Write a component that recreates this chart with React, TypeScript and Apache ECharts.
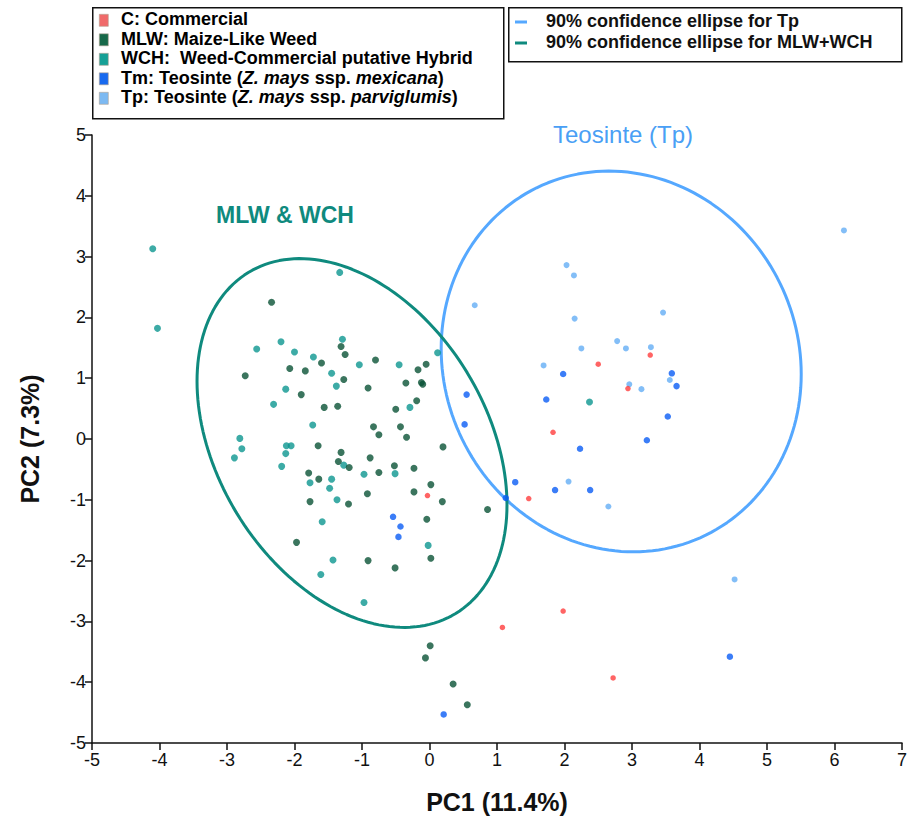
import React, { useEffect, useRef } from "react";
import * as echarts from "echarts";

// ---- Data (PC1, PC2) ----
const commercial: [number, number][] = [
  [-0.03, -0.93], [1.47, -0.98], [1.83, 0.11], [2.5, 1.23], [3.27, 1.38],
  [2.94, 0.83], [1.08, -3.1], [1.98, -2.83], [2.72, -3.93],
];

const mlw: [number, number][] = [
  [-2.34, 2.25], [-2.07, 1.16], [-2.73, 1.04], [-1.31, 1.52], [-1.25, 1.39],
  [-1.6, 1.25], [-1.84, 1.12], [-0.8, 1.3], [-0.05, 1.23], [-0.17, 1.14],
  [-1.27, 0.98], [-1.9, 0.73], [-0.91, 0.84], [-0.35, 0.92], [-0.12, 0.93],
  [-0.1, 0.9], [-0.19, 0.63], [-1.56, 0.52], [-1.36, 0.54], [-0.5, 0.49],
  [-0.83, 0.2], [-0.43, 0.2], [-0.75, 0.07], [-0.34, 0.03], [-1.65, -0.11],
  [-1.31, -0.22], [-1.35, -0.37], [-1.19, -0.47], [-0.88, -0.31], [-0.52, -0.44],
  [-0.23, -0.48], [-1.79, -0.56], [-1.64, -0.66], [-0.75, -0.55], [-0.92, -0.9],
  [-0.23, -0.87], [0.02, -0.75], [-1.77, -1.03], [-1.97, -1.7], [-1.2, -1.07],
  [0.19, -1.03], [0.86, -1.16], [-0.04, -1.32], [0.02, -1.96], [-0.91, -2.0],
  [-0.51, -2.12], [0.01, -3.4], [-0.06, -3.6], [0.35, -4.03], [0.56, -4.37],
  [0.2, -0.13],
];

const wch: [number, number][] = [
  [-4.1, 3.13], [-4.03, 1.82], [-2.56, 1.48], [-2.2, 1.6], [-2.0, 1.43],
  [-2.13, 0.82], [-1.33, 2.74], [-1.29, 1.64], [-1.72, 1.35], [-1.45, 1.08],
  [-1.04, 1.22], [-0.45, 1.22], [0.12, 1.42], [-1.38, 0.87], [-2.31, 0.57],
  [-0.29, 0.52], [-1.73, 0.23], [-2.12, -0.11], [-2.05, -0.11], [-2.13, -0.24],
  [-1.27, -0.43], [-2.19, -0.45], [-1.45, -0.66], [-0.97, -0.58], [-0.51, -0.57],
  [-1.77, -0.72], [-1.48, -0.81], [-2.81, 0.01], [-2.78, -0.16], [-2.89, -0.31],
  [-1.37, -1.0], [-1.59, -1.36], [-0.02, -1.75], [-1.43, -1.99], [-1.61, -2.23],
  [-0.97, -2.69], [2.37, 0.61],
];

const tm: [number, number][] = [
  [-0.54, -1.28], [-0.43, -1.44], [-0.46, -1.61], [0.21, -4.53], [0.55, 0.73],
  [0.52, 0.24], [1.73, 0.65], [1.98, 1.07], [3.53, 0.37], [3.66, 0.87],
  [3.59, 1.08], [3.22, -0.02], [2.23, -0.16], [1.27, -0.71], [1.13, -0.97],
  [1.86, -0.84], [2.38, -0.84], [4.45, -3.58],
];

const tp: [number, number][] = [
  [2.03, 2.86], [2.14, 2.69], [0.67, 2.2], [2.15, 1.98], [3.46, 2.08],
  [2.25, 1.49], [2.78, 1.61], [2.91, 1.49], [3.28, 1.51], [1.69, 1.21],
  [2.96, 0.9], [3.14, 0.82], [3.56, 0.97], [2.06, -0.7], [2.65, -1.11],
  [6.14, 3.43], [4.52, -2.31],
];

// 90% confidence ellipse parameters (centre, SDs along axes, correlation) in data units
const ellipseTp = { cx: 2.84, cy: 1.275, sx: 2.667, sy: 3.131, r: -0.067 };
const ellipseMlwWch = { cx: -1.148, cy: -0.066, sx: 2.296, sy: 3.033, r: -0.335 };

const xTicks = [-5, -4, -3, -2, -1, 0, 1, 2, 3, 4, 5, 6, 7];
const yTicks = [-5, -4, -3, -2, -1, 0, 1, 2, 3, 4, 5];

function ellipsePoints(e: { cx: number; cy: number; sx: number; sy: number; r: number }) {
  const pts: [number, number][] = [];
  const n = 180;
  const l21 = e.r * e.sy;
  const l22 = e.sy * Math.sqrt(1 - e.r * e.r);
  for (let i = 0; i <= n; i++) {
    const t = (i / n) * Math.PI * 2;
    const u = Math.cos(t);
    const v = Math.sin(t);
    pts.push([e.cx + e.sx * u, e.cy + l21 * u + l22 * v]);
  }
  return pts;
}

const C_RED = "#ff3d3d";
const C_MLW = "#0a5236";
const C_WCH = "#0c9690";
const C_TM = "#0a5cf5";
const C_TP = "#64aef5";
const E_TEAL = "#0f8a7e";
const E_BLUE = "#55a8ff";

const FONT = "'Liberation Sans', Arial, sans-serif";

export default function App() {
  const ref = useRef<HTMLDivElement>(null);
  useEffect(() => {
    if (!ref.current) return;
    const chart = echarts.init(ref.current, null, { renderer: "svg" });

    const scatter = (name: string, data: [number, number][], color: string, size: number) => ({
      name,
      type: "scatter",
      data,
      symbol: "circle",
      symbolSize: size,
      itemStyle: { color },
      z: 3,
    });

    const legendRows = [
      { color: "#f06a6a", text: "{b|C: Commercial}" },
      { color: "#17694a", text: "{b|MLW: Maize-Like Weed}" },
      { color: "#15a096", text: "{b|WCH:  Weed-Commercial putative Hybrid}" },
      { color: "#1769ef", text: "{b|Tm: Teosinte (}{i|Z. mays}{b| ssp. }{i|mexicana}{b|)}" },
      { color: "#7cb9f2", text: "{b|Tp: Teosinte (}{i|Z. mays}{b| ssp. }{i|parviglumis}{b|)}" },
    ];
    const LFS = 18;
    const rich = {
      b: { fontFamily: FONT, fontSize: LFS, fontWeight: "bold", color: "#111" },
      i: { fontFamily: FONT, fontSize: LFS, fontWeight: "bold", fontStyle: "italic", color: "#111" },
    };

    const graphic: any[] = [
      {
        type: "rect",
        left: 92,
        top: 7,
        shape: { width: 411, height: 111 },
        style: { fill: "#fff", stroke: "#111", lineWidth: 1.5 },
      },
      {
        type: "rect",
        left: 508,
        top: 7,
        shape: { width: 393, height: 54 },
        style: { fill: "#fff", stroke: "#111", lineWidth: 1.5 },
      },
    ];
    legendRows.forEach((row, i) => {
      const y = 20 + i * 19.5;
      graphic.push({
        type: "rect",
        left: 99,
        top: y - 6,
        shape: { width: 9, height: 12 },
        style: { fill: row.color, stroke: "#b0a090", lineWidth: 0.6 },
      });
      graphic.push({
        type: "text",
        left: 121,
        top: y - 10,
        style: { text: row.text, rich, fontFamily: FONT, fontSize: LFS },
      });
    });
    const lineRows = [
      { color: E_BLUE, text: "90% confidence ellipse for Tp" },
      { color: E_TEAL, text: "90% confidence ellipse for MLW+WCH" },
    ];
    lineRows.forEach((row, i) => {
      const y = 22 + i * 21;
      graphic.push({
        type: "line",
        shape: { x1: 515, y1: y, x2: 527, y2: y },
        style: { stroke: row.color, lineWidth: 3 },
      });
      graphic.push({
        type: "text",
        left: 546,
        top: y - 10,
        style: { text: row.text, fontFamily: FONT, fontSize: LFS, fontWeight: "bold", fill: "#111" },
      });
    });
    graphic.push({
      type: "text",
      left: 216,
      top: 203,
      style: { text: "MLW & WCH", fontFamily: FONT, fontSize: 23, fontWeight: "bold", fill: E_TEAL },
    });
    graphic.push({
      type: "text",
      left: 553,
      top: 122,
      style: { text: "Teosinte (Tp)", fontFamily: FONT, fontSize: 24, fill: "#4a9ff5" },
    });

    chart.setOption({
      animation: false,
      backgroundColor: "#fff",
      grid: { left: 92, right: 11, top: 135, bottom: 74 },
      xAxis: {
        type: "value",
        min: xTicks[0],
        max: xTicks[xTicks.length - 1],
        interval: 1,
        name: "PC1 (11.4%)",
        nameLocation: "middle",
        nameGap: 46,
        nameTextStyle: { fontFamily: FONT, fontSize: 25, fontWeight: "bold", color: "#111" },
        axisLine: { onZero: false, lineStyle: { color: "#111", width: 1.5 } },
        axisTick: { length: 7, lineStyle: { color: "#111", width: 1.5 } },
        axisLabel: { fontFamily: FONT, fontSize: 18, color: "#111", margin: 8 },
        splitLine: { show: false },
      },
      yAxis: {
        type: "value",
        min: yTicks[0],
        max: yTicks[yTicks.length - 1],
        interval: 1,
        name: "PC2 (7.3%)",
        nameLocation: "middle",
        nameGap: 50,
        nameRotate: 90,
        nameTextStyle: { fontFamily: FONT, fontSize: 25, fontWeight: "bold", color: "#111" },
        axisLine: { onZero: false, lineStyle: { color: "#111", width: 1.5 } },
        axisTick: { length: 7, lineStyle: { color: "#111", width: 1.5 } },
        axisLabel: { fontFamily: FONT, fontSize: 18, color: "#111", margin: 6 },
        splitLine: { show: false },
      },
      series: [
        {
          name: "90% confidence ellipse for Tp",
          type: "line",
          data: ellipsePoints(ellipseTp),
          showSymbol: false,
          symbol: "none",
          lineStyle: { color: E_BLUE, width: 3 },
          silent: true,
          z: 2,
        },
        {
          name: "90% confidence ellipse for MLW+WCH",
          type: "line",
          data: ellipsePoints(ellipseMlwWch),
          showSymbol: false,
          symbol: "none",
          lineStyle: { color: E_TEAL, width: 3 },
          silent: true,
          z: 2,
        },
        scatter("WCH", wch, C_WCH, 7),
        scatter("MLW", mlw, C_MLW, 7),
        scatter("Tp", tp, C_TP, 6),
        scatter("Tm", tm, C_TM, 6.5),
        scatter("C", commercial, C_RED, 5.5),
      ],
      graphic,
    });
    return () => chart.dispose();
  }, []);
  return (
    <div
      ref={ref}
      style={{ position: "absolute", left: 0, top: 0, width: 913, height: 819 }}
    />
  );
}
